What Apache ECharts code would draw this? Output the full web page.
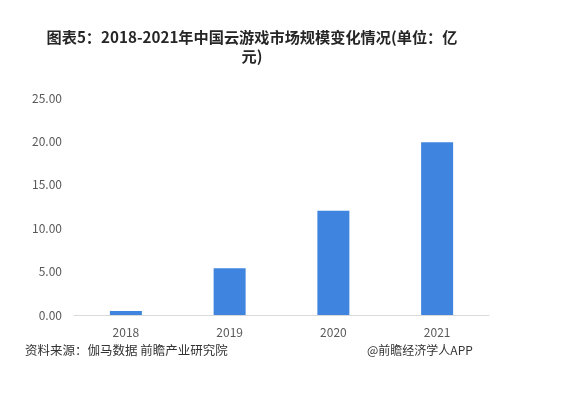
<!DOCTYPE html>
<html>
<head>
<meta charset="utf-8">
<script src="https://cdn.jsdelivr.net/npm/echarts@6/dist/echarts.min.js"></script>
<style>
  html, body { margin: 0; padding: 0; background: #fff; }
  #chart { width: 561px; height: 398px; }
</style>
</head>
<body>
<div id="chart"></div>
<script>
// 年份 & 市场规模（亿元）
const years = ['2018', '2019', '2020', '2021'];
const marketSize = [0.45, 5.4, 12.0, 19.9];
const yTicks = { min: 0, max: 25, interval: 5 };

const titleText = '图表5：2018-2021年中国云游戏市场规模变化情况(单位：亿\n元)';
const sourceText = '资料来源：伽马数据 前瞻产业研究院';
const brandText = '@前瞻经济学人APP';

const font = '"Microsoft YaHei", "Noto Sans CJK SC", sans-serif';

const chart = echarts.init(document.getElementById('chart'));

const option = {
    backgroundColor: '#fff',
    animation: false,
    title: {
        text: titleText,
        left: 247,
        textAlign: 'center',
        top: 22,
        textStyle: {
            fontFamily: font,
            fontSize: 15.2,
            fontWeight: 'bold',
            color: '#262626',
            lineHeight: 19.5
        }
    },
    grid: {
        left: 74,
        right: 72,
        top: 98,
        bottom: 83
    },
    xAxis: {
        type: 'category',
        data: years,
        axisLine: { lineStyle: { color: '#d9d9d9' } },
        axisTick: { show: false },
        axisLabel: {
            color: '#595959',
            fontSize: 12,
            fontFamily: font,
            margin: 11
        }
    },
    yAxis: {
        type: 'value',
        min: yTicks.min,
        max: yTicks.max,
        interval: yTicks.interval,
        axisLine: { show: false },
        axisTick: { show: false },
        splitLine: { show: false },
        axisLabel: {
            color: '#595959',
            fontSize: 12,
            fontFamily: font,
            margin: 12,
            formatter: function (v) { return v.toFixed(2); }
        }
    },
    series: [
        {
            type: 'bar',
            data: marketSize,
            barWidth: 32,
            itemStyle: { color: '#3f84df' }
        }
    ],
    graphic: [
        {
            type: 'text',
            left: 25,
            top: 344,
            style: {
                text: sourceText,
                font: '12.5px ' + font,
                fill: '#333'
            }
        },
        {
            type: 'text',
            left: 367,
            top: 344,
            style: {
                text: brandText,
                font: '12px ' + font,
                fill: '#333'
            }
        }
    ]
};

chart.setOption(option);
</script>
</body>
</html>
